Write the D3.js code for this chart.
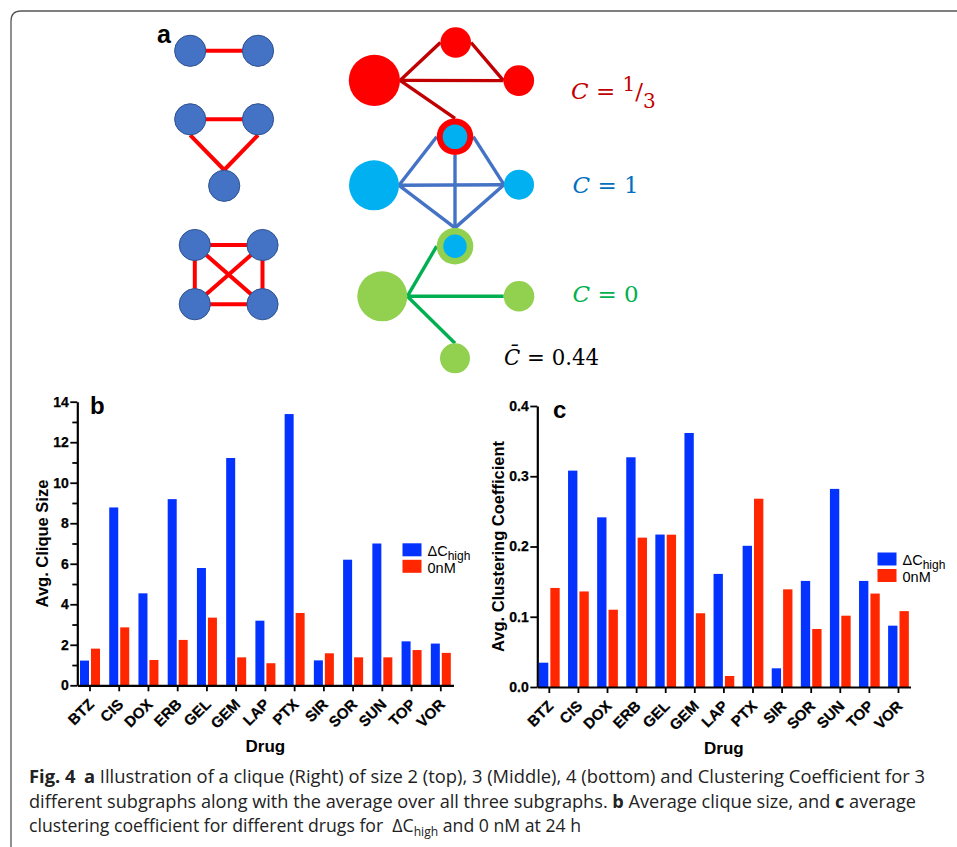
<!DOCTYPE html>
<html>
<head>
<meta charset="utf-8">
<script src="https://cdn.jsdelivr.net/npm/d3@7"></script>
<style>
  body { margin: 0; background: #fff; }
  svg { display: block; }
</style>
</head>
<body>
<svg id="fig" width="957" height="847"></svg>
<script>
'use strict';

// ---- chart data ----
const drugs = ['BTZ', 'CIS', 'DOX', 'ERB', 'GEL', 'GEM', 'LAP', 'PTX', 'SIR', 'SOR', 'SUN', 'TOP', 'VOR'];
const cliqueHigh = [1.22, 8.78, 4.54, 9.19, 5.79, 11.22, 3.19, 13.39, 1.23, 6.2, 7.0, 2.17, 2.06];
const clique0nM  = [1.81, 2.86, 1.25, 2.24, 3.34, 1.38, 1.09, 3.57, 1.58, 1.38, 1.38, 1.74, 1.6];
const clustHigh  = [0.0346, 0.308, 0.2415, 0.327, 0.217, 0.3616, 0.161, 0.201, 0.0266, 0.151, 0.282, 0.151, 0.0873];
const clust0nM   = [0.141, 0.136, 0.110, 0.2126, 0.2168, 0.105, 0.0157, 0.268, 0.139, 0.0826, 0.1015, 0.133, 0.108];
const cliqueTicks = [0, 2, 4, 6, 8, 10, 12, 14];
const cliqueMinor = [1, 3, 5, 7, 9, 11, 13];
const clustTicks = [0, 0.1, 0.2, 0.3, 0.4];
const seriesNames = ['high', '0nM'];
const seriesColors = ['#0433FF', '#FF2600'];

// ---- panel a diagram geometry ----
const cliqueNodes = [
  {id: 'a1', x: 190.2, y: 50.8}, {id: 'a2', x: 258, y: 50.8},
  {id: 'b1', x: 190.2, y: 119.3}, {id: 'b2', x: 258, y: 119.3}, {id: 'b3', x: 224.2, y: 185.8},
  {id: 'c1', x: 194.8, y: 245}, {id: 'c2', x: 262.5, y: 245},
  {id: 'c3', x: 194.8, y: 304.2}, {id: 'c4', x: 262.5, y: 304.2}
];
const cliqueEdges = [
  ['a1', 'a2'], ['b1', 'b2'], ['b1.s', 'b3.n'], ['b2.s', 'b3.n'],
  ['c1', 'c2'], ['c3', 'c4'], ['c1', 'c3'], ['c2', 'c4'], ['c1', 'c4'], ['c2', 'c3']
];
const netNodes = [
  {id: 'rHub', x: 374.4, y: 80.4, r: 25.6, fill: '#FF0000'},
  {id: 'rTop', x: 455.7, y: 42.5, r: 15.3, fill: '#FF0000'},
  {id: 'rRight', x: 518.8, y: 80.6, r: 15.3, fill: '#FF0000'},
  {id: 'bHub', x: 374, y: 185.3, r: 25, fill: '#00B0F0'},
  {id: 'bRight', x: 519, y: 184.7, r: 15, fill: '#00B0F0'},
  {id: 'gHub', x: 382.3, y: 296.3, r: 25, fill: '#92D050'},
  {id: 'gRight', x: 519, y: 296.3, r: 15.3, fill: '#92D050'},
  {id: 'gBot', x: 455, y: 358.3, r: 15, fill: '#92D050'},
  {id: 'shT', x: 455, y: 136.7, r: 18.3, fill: '#FF0000', inner: '#00B0F0', ir: 12.3},
  {id: 'shB', x: 455, y: 246.2, r: 18.3, fill: '#92D050', inner: '#00B0F0', ir: 11.7}
];
const netEdges = [
  ['rHub.e', 'rTop.w', '#C00000'], ['rHub.e', 'rRight.w', '#C00000'],
  ['rTop.e', 'rRight.w', '#C00000'], ['rHub.e', 'shT.n', '#C00000'],
  ['bHub.e', 'shT.w', '#4472C4'], ['bHub.e', 'bRight.w', '#4472C4'], ['bHub.e', 'shB.n', '#4472C4'],
  ['shT.s', 'shB.n', '#4472C4'], ['shT.e', 'bRight.w', '#4472C4'], ['shB.n', 'bRight.w', '#4472C4'],
  ['gHub.e', 'shB.w', '#00B050'], ['gHub.e', 'gRight.w', '#00B050'], ['gHub.e', 'gBot.n', '#00B050']
];

const svg = d3.select('#fig');
const SANS = 'Liberation Sans, Arial, sans-serif';

// frame: rounded top-left corner, open at right and bottom
svg.append('path')
  .attr('d', 'M11,847 L11,21 Q11,11 21,11 L957,11')
  .attr('fill', 'none')
  .attr('stroke', '#555')
  .attr('stroke-width', 1.3);

// ---------- panel a ----------
function portOf(nodes, key, defR) {
  const [id, p] = key.split('.');
  const n = nodes.find(d => d.id === id);
  const r = n.r || defR;
  switch (p) {
    case 'n': return [n.x, n.y - r];
    case 's': return [n.x, n.y + r];
    case 'e': return [n.x + r, n.y];
    case 'w': return [n.x - r, n.y];
    default: return [n.x, n.y];
  }
}

const gA = svg.append('g');
gA.selectAll('line.clq')
  .data(cliqueEdges)
  .join('line')
  .attr('class', 'clq')
  .each(function(e) {
    const a = portOf(cliqueNodes, e[0], 15.8), b = portOf(cliqueNodes, e[1], 15.8);
    d3.select(this).attr('x1', a[0]).attr('y1', a[1]).attr('x2', b[0]).attr('y2', b[1]);
  })
  .attr('stroke', '#FF0000')
  .attr('stroke-width', 4);
gA.selectAll('circle.clq')
  .data(cliqueNodes)
  .join('circle')
  .attr('class', 'clq')
  .attr('cx', d => d.x).attr('cy', d => d.y).attr('r', 15.6)
  .attr('fill', '#4472C4')
  .attr('stroke', '#2F528F')
  .attr('stroke-width', 1);

gA.selectAll('line.net')
  .data(netEdges)
  .join('line')
  .attr('class', 'net')
  .each(function(e) {
    const a = portOf(netNodes, e[0]), b = portOf(netNodes, e[1]);
    d3.select(this).attr('x1', a[0]).attr('y1', a[1]).attr('x2', b[0]).attr('y2', b[1]);
  })
  .attr('stroke', e => e[2])
  .attr('stroke-width', 3.4);
gA.selectAll('circle.net')
  .data(netNodes)
  .join('circle')
  .attr('class', 'net')
  .attr('cx', d => d.x).attr('cy', d => d.y).attr('r', d => d.r)
  .attr('fill', d => d.fill);
gA.selectAll('circle.inner')
  .data(netNodes.filter(d => d.inner))
  .join('circle')
  .attr('class', 'inner')
  .attr('cx', d => d.x).attr('cy', d => d.y).attr('r', d => d.ir)
  .attr('fill', d => d.inner);

gA.append('text')
  .attr('x', 157).attr('y', 43)
  .attr('font-family', SANS).attr('font-weight', 'bold').attr('font-size', 25)
  .text('a');

const SERIF = 'DejaVu Serif, Liberation Serif, serif';
function eqLabel(x, y, color) {
  return gA.append('text')
    .attr('x', x).attr('y', y)
    .attr('font-family', SERIF).attr('font-size', 23)
    .attr('fill', color);
}
let t1 = eqLabel(571, 98.5, '#C00000');
t1.append('tspan').attr('font-style', 'italic').text('C');
t1.append('tspan').text(' = ');
t1.append('tspan').attr('font-size', 20).attr('dy', -8).text('1');
t1.append('tspan').attr('dy', 8).text('/');
t1.append('tspan').attr('font-size', 20).attr('dy', 9).text('3');

let t2 = eqLabel(572.5, 192.7, '#0070C0');
t2.append('tspan').attr('font-style', 'italic').text('C');
t2.append('tspan').text(' = 1');

let t3 = eqLabel(572.5, 302, '#00B050');
t3.append('tspan').attr('font-style', 'italic').text('C');
t3.append('tspan').text(' = 0');

let t4 = eqLabel(504, 365, '#000')
  .attr('textLength', 95).attr('lengthAdjust', 'spacingAndGlyphs');
t4.append('tspan').attr('font-style', 'italic').text('C\u0304');
t4.append('tspan').text(' = 0.44');

// ---------- panels b and c ----------
function barPanel(cfg) {
  const g = svg.append('g');
  const x0 = d3.scaleBand()
    .domain(drugs)
    .range([cfg.left, cfg.right])
    .paddingInner(cfg.padIn)
    .paddingOuter(cfg.padOut);
  const x1 = d3.scaleBand()
    .domain(seriesNames)
    .range([0, x0.bandwidth()])
    .paddingInner(0.18);
  const y = d3.scaleLinear().domain(cfg.domain).range([cfg.bottom, cfg.top]);

  const rows = drugs.map((d, i) => ({drug: d, vals: [cfg.high[i], cfg.low[i]]}));
  g.selectAll('g.grp')
    .data(rows)
    .join('g')
    .attr('class', 'grp')
    .attr('transform', d => 'translate(' + x0(d.drug) + ',0)')
    .selectAll('rect')
    .data(d => d.vals.map((v, k) => ({k: k, v: v})))
    .join('rect')
    .attr('x', d => x1(seriesNames[d.k]))
    .attr('width', x1.bandwidth())
    .attr('y', d => y(d.v))
    .attr('height', d => y(0) - y(d.v))
    .attr('fill', d => seriesColors[d.k]);

  // y axis
  const yAxis = g.append('g')
    .attr('transform', 'translate(' + cfg.left + ',0)')
    .call(d3.axisLeft(y).tickValues(cfg.ticks).tickSize(7).tickSizeOuter(0)
      .tickFormat(cfg.fmt));
  if (cfg.minor) {
    g.append('g')
      .attr('transform', 'translate(' + cfg.left + ',0)')
      .call(d3.axisLeft(y).tickValues(cfg.minor).tickSize(5).tickSizeOuter(0).tickFormat(''))
      .call(a => a.select('.domain').remove())
      .selectAll('line').attr('stroke-width', 1.8);
  }
  yAxis.select('.domain').attr('stroke-width', 2.2);
  yAxis.selectAll('line').attr('stroke-width', 1.8);
  yAxis.selectAll('text')
    .attr('x', -8.5)
    .attr('font-family', SANS).attr('font-weight', 'bold').attr('font-size', 14)
    .attr('stroke', '#000').attr('stroke-width', 0.25)
    .attr('fill', '#000');

  // x axis
  const xAxis = g.append('g')
    .attr('transform', 'translate(0,' + cfg.bottom + ')')
    .call(d3.axisBottom(x0).tickSize(6).tickSizeOuter(0));
  xAxis.select('.domain').attr('stroke-width', 2.2);
  xAxis.selectAll('line').attr('stroke-width', 1.8);
  xAxis.selectAll('text')
    .attr('x', null).attr('y', null).attr('dy', null)
    .attr('text-anchor', 'end')
    .attr('transform', 'translate(5,20) rotate(-45)')
    .attr('font-family', SANS).attr('font-weight', 'bold').attr('font-size', 15)
    .attr('stroke', '#000').attr('stroke-width', 0.25)
    .attr('fill', '#000');
  g.selectAll('.domain').attr('stroke', '#000');

  // titles
  g.append('text')
    .attr('transform', 'translate(' + cfg.ylabX + ',' + ((cfg.top + cfg.bottom) / 2) + ') rotate(-90)')
    .attr('text-anchor', 'middle')
    .attr('font-family', SANS).attr('font-weight', 'bold').attr('font-size', 16.5)
    .text(cfg.ylabel);
  g.append('text')
    .attr('x', (cfg.left + cfg.right) / 2).attr('y', cfg.xlabY)
    .attr('text-anchor', 'middle')
    .attr('font-family', SANS).attr('font-weight', 'bold').attr('font-size', 17)
    .text('Drug');
  g.append('text')
    .attr('x', cfg.tagX).attr('y', cfg.tagY)
    .attr('font-family', SANS).attr('font-weight', 'bold').attr('font-size', 24)
    .text(cfg.tag);

  // legend
  const lg = g.append('g').attr('transform', 'translate(' + cfg.legX + ',' + cfg.legY + ')');
  seriesNames.forEach((s, k) => {
    lg.append('rect')
      .attr('x', 0).attr('y', k * 16.5)
      .attr('width', 19).attr('height', 13)
      .attr('fill', seriesColors[k]);
    const tx = lg.append('text')
      .attr('x', 25).attr('y', k * 16.5 + 12.8)
      .attr('font-family', SANS).attr('font-size', 14.5);
    if (k === 0) {
      tx.append('tspan').text('\u0394C');
      tx.append('tspan').attr('font-size', 12).attr('dy', 4).text('high');
    } else {
      tx.text('0nM');
    }
  });
}

barPanel({
  left: 77.3, right: 453.5, top: 401.7, bottom: 685.3, padIn: 0.316, padOut: 0.092,
  domain: [0, 14], ticks: cliqueTicks, minor: cliqueMinor, fmt: d3.format('d'),
  high: cliqueHigh, low: clique0nM,
  ylabel: 'Avg. Clique Size', ylabX: 48, xlabY: 752, tag: 'b', tagX: 90, tagY: 413.5,
  legX: 402.5, legY: 543.3
});
barPanel({
  left: 537.3, right: 910.5, top: 406, bottom: 687, padIn: 0.288, padOut: 0.057,
  domain: [0, 0.4], ticks: clustTicks, minor: null, fmt: d3.format('.1f'),
  high: clustHigh, low: clust0nM,
  ylabel: 'Avg. Clustering Coefficient', ylabX: 504, xlabY: 753.5, tag: 'c', tagX: 553, tagY: 418,
  legX: 877.5, legY: 552.5
});

// ---------- caption ----------
const CAP = 'Open Sans, Noto Sans, sans-serif';
function capLine(y, len) {
  return svg.append('text')
    .attr('x', 29).attr('y', y)
    .attr('font-family', CAP).attr('font-size', 17.5)
    .attr('fill', '#222')
    .attr('textLength', len).attr('lengthAdjust', 'spacingAndGlyphs');
}
let c1 = capLine(783, 896);
c1.append('tspan').attr('font-weight', 'bold').text('Fig. 4');
c1.append('tspan').attr('font-weight', 'bold').attr('dx', 8).text('a');
c1.append('tspan').text(' Illustration of a clique (Right) of size 2 (top), 3 (Middle), 4 (bottom) and Clustering Coefficient for 3');

let c2 = capLine(807.5, 887);
c2.append('tspan').text('different subgraphs along with the average over all three subgraphs. ');
c2.append('tspan').attr('font-weight', 'bold').text('b');
c2.append('tspan').text(' Average clique size, and ');
c2.append('tspan').attr('font-weight', 'bold').text('c');
c2.append('tspan').text(' average');

let c3 = capLine(831.5, 552);
c3.append('tspan').text('clustering coefficient for different drugs for \u00A0\u0394C');
c3.append('tspan').attr('font-size', 12).attr('dy', 4).text('high');
c3.append('tspan').attr('dy', -4).text(' and 0 nM at 24 h');
</script>
</body>
</html>
